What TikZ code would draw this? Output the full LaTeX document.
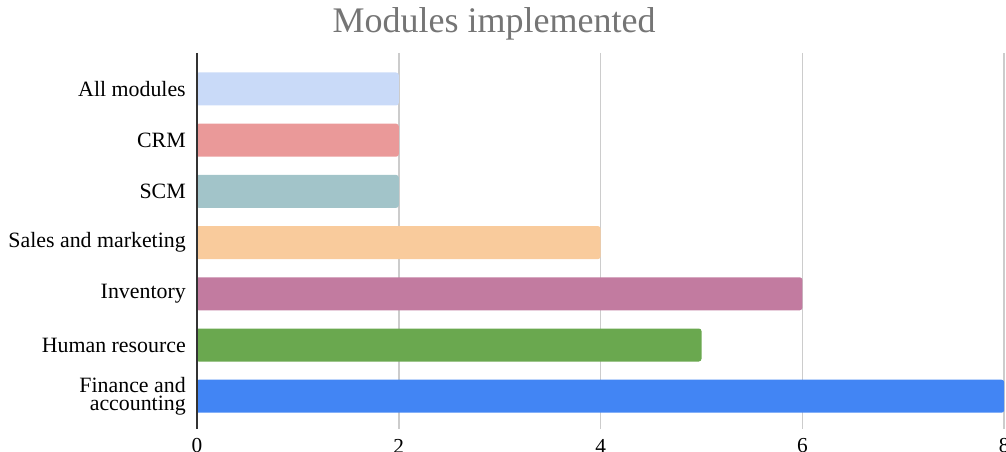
\documentclass[tikz,border=0pt]{standalone}
\usepackage{fontspec}
\setmainfont{Liberation Serif}
\usepackage{xcolor}
\definecolor{allcol}{HTML}{C9DAF8}
\definecolor{crmcol}{HTML}{EA9999}
\definecolor{scmcol}{HTML}{A2C4C9}
\definecolor{salescol}{HTML}{F9CB9C}
\definecolor{invcol}{HTML}{C27BA0}
\definecolor{hrcol}{HTML}{6AA84F}
\definecolor{fincol}{HTML}{4285F4}
\definecolor{gridcol}{HTML}{CCCCCC}
\definecolor{titlecol}{HTML}{757575}
\usetikzlibrary{positioning}

\begin{document}
\begin{tikzpicture}[x=0.75pt, y=-0.75pt,
    bar/.style={fill=#1, draw=none, rounded corners=2pt},
    catlabel/.style={anchor=east, align=right, inner sep=0pt, font=\fontsize{16.4}{13.6}\selectfont},
    ticklabel/.style={inner sep=0pt, font=\fontsize{16}{16}\selectfont}]

    \useasboundingbox (0,0) rectangle (1006,452);

    % Title
    \node[font=\fontsize{27}{27}\selectfont, text=titlecol] (title) at (494,24) {Modules implemented};

    % Grid lines and tick labels
    \foreach \v in {2,4,6,8} {
        \draw[gridcol, line width=1.3] (197+100.9*\v,53) -- (197+100.9*\v,429);
    }
    \foreach \v in {0,2,4,6,8} {
        \node[ticklabel] (tick\v) at (197+100.9*\v,446) {\v};
    }

    % Bars with their labels
    \foreach \i/\val/\col/\txt in {0/2/allcol/{All modules}, 1/2/crmcol/{CRM}, 2/2/scmcol/{SCM},
        3/4/salescol/{Sales and marketing}, 4/6/invcol/{Inventory}, 5/5/hrcol/{Human resource},
        6/8/fincol/{Finance and\\accounting}} {
        \fill[bar=\col] (196,89+51.2*\i-16.5) rectangle (197+100.9*\val,89+51.2*\i+16.5);
        \node[catlabel] (label\i) at (186,89+51.2*\i) {\txt};
    }

    % Axis
    \draw[black!80, line width=1.3] (197,53) -- (197,429);

\end{tikzpicture}
\end{document}
